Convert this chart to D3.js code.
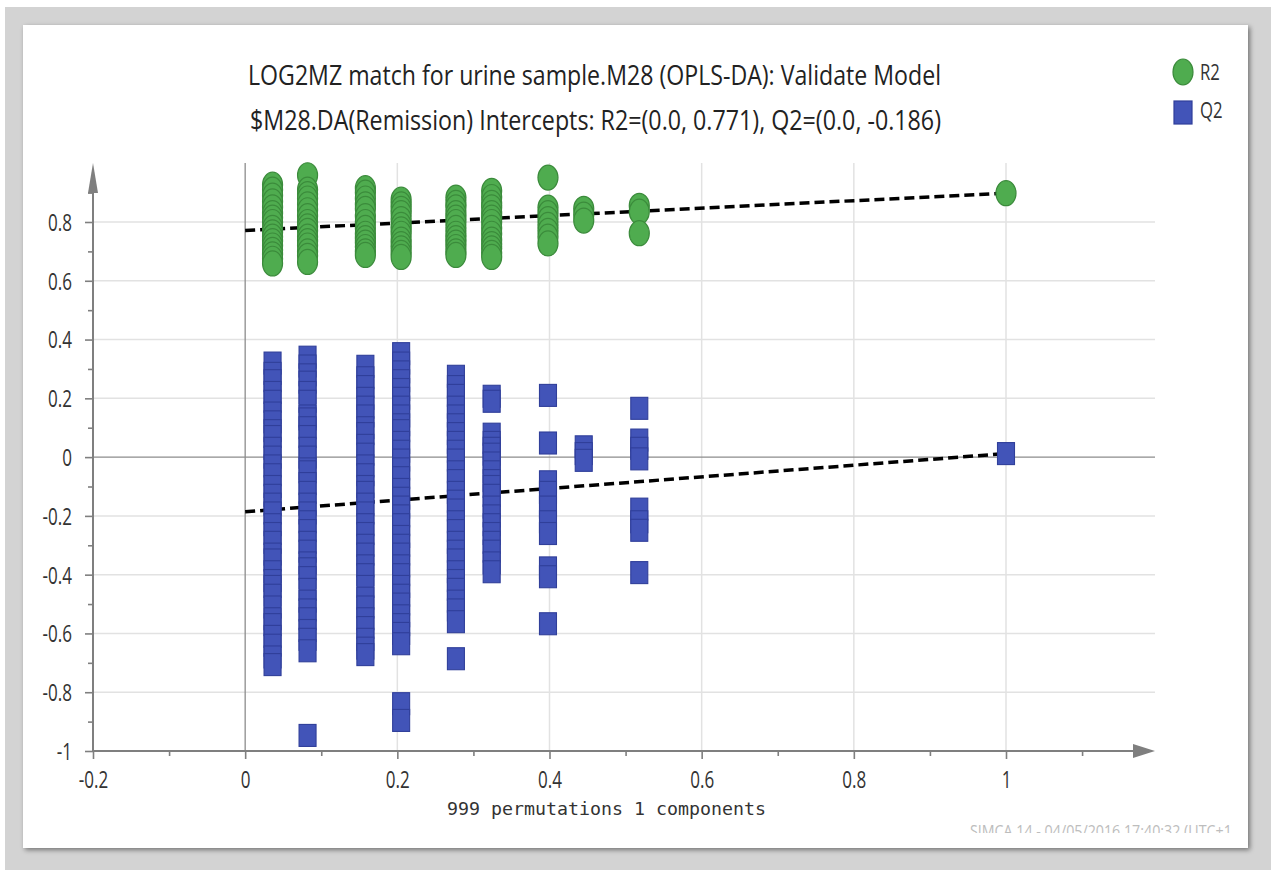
<!DOCTYPE html>
<html>
<head>
<meta charset="utf-8">
<script src="https://cdn.jsdelivr.net/npm/d3@7"></script>
<style>
  html, body { margin: 0; padding: 0; background: #ffffff; }
  svg { display: block; }
</style>
</head>
<body>
<svg id="chart" width="1271" height="870"></svg>
<script>
// Permutation correlation (x position) of each group of permuted models
const permCorr = [0.036, 0.082, 0.158, 0.205, 0.277, 0.324, 0.398, 0.445, 0.518];

// R2 of the permuted models, one list per correlation group
const r2Perm = [
  [0.927, 0.91, 0.89, 0.87, 0.85, 0.83, 0.815, 0.80, 0.78, 0.765, 0.75, 0.735, 0.72, 0.705, 0.69, 0.675, 0.659],
  [0.959, 0.91, 0.895, 0.88, 0.86, 0.84, 0.82, 0.80, 0.785, 0.77, 0.75, 0.735, 0.72, 0.70, 0.685, 0.664],
  [0.915, 0.90, 0.88, 0.86, 0.845, 0.82, 0.80, 0.78, 0.76, 0.745, 0.73, 0.715, 0.70, 0.688],
  [0.876, 0.86, 0.845, 0.83, 0.81, 0.79, 0.775, 0.76, 0.74, 0.725, 0.71, 0.695, 0.681],
  [0.883, 0.865, 0.85, 0.83, 0.815, 0.80, 0.78, 0.76, 0.745, 0.73, 0.715, 0.70, 0.688],
  [0.906, 0.885, 0.865, 0.85, 0.83, 0.815, 0.80, 0.78, 0.76, 0.74, 0.725, 0.71, 0.695, 0.681],
  [0.951, 0.849, 0.83, 0.81, 0.79, 0.77, 0.75, 0.727],
  [0.845, 0.825, 0.805],
  [0.855, 0.835, 0.762]
];

// Q2 of the permuted models, one list per correlation group
const q2Perm = [
  [0.32, 0.285, 0.26, 0.22, 0.19, 0.15, 0.12, 0.09, 0.07, 0.03, 0.0, -0.03, -0.06, -0.10, -0.13, -0.16, -0.19, -0.23, -0.26, -0.29, -0.33, -0.35, -0.39, -0.42, -0.44, -0.47, -0.51, -0.55, -0.57, -0.61, -0.64, -0.68, -0.706],
  [0.34, 0.31, 0.28, 0.255, 0.22, 0.19, 0.14, 0.13, 0.10, 0.07, 0.03, 0.0, -0.04, -0.05, -0.09, -0.12, -0.16, -0.19, -0.22, -0.25, -0.29, -0.32, -0.36, -0.38, -0.41, -0.45, -0.49, -0.52, -0.55, -0.59, -0.62, -0.659, -0.947],
  [0.309, 0.27, 0.24, 0.20, 0.17, 0.14, 0.10, 0.08, 0.04, 0.01, -0.03, -0.06, -0.10, -0.12, -0.16, -0.19, -0.23, -0.26, -0.30, -0.33, -0.37, -0.40, -0.44, -0.48, -0.51, -0.55, -0.58, -0.62, -0.65, -0.672],
  [0.352, 0.32, 0.29, 0.26, 0.23, 0.20, 0.17, 0.14, 0.11, 0.09, 0.05, 0.02, -0.01, -0.04, -0.07, -0.11, -0.14, -0.17, -0.20, -0.23, -0.27, -0.30, -0.33, -0.37, -0.40, -0.44, -0.47, -0.50, -0.54, -0.57, -0.60, -0.635, -0.839, -0.896],
  [0.275, 0.24, 0.21, 0.17, 0.14, 0.11, 0.08, 0.05, 0.02, -0.01, -0.05, -0.08, -0.12, -0.15, -0.18, -0.22, -0.25, -0.29, -0.32, -0.35, -0.39, -0.42, -0.45, -0.49, -0.52, -0.56, -0.686],
  [0.207, 0.19, 0.078, 0.05, 0.03, 0.01, -0.02, -0.05, -0.08, -0.10, -0.13, -0.17, -0.20, -0.23, -0.26, -0.29, -0.32, -0.36, -0.39],
  [0.21, 0.048, -0.084, -0.12, -0.17, -0.22, -0.26, -0.377, -0.407, -0.567],
  [0.035, 0.012, -0.011],
  [0.166, 0.058, 0.03, -0.006, -0.177, -0.22, -0.249, -0.393]
];

// Original (unpermuted) model, plotted at correlation 1
const modelCorr = 1.0;
const r2Model = 0.898;
const q2Model = 0.012;

// Regression intercepts reported in the subtitle
const r2Intercept = 0.771;
const q2Intercept = -0.186;

// Axis ticks
const xTicks = [-0.2, 0, 0.2, 0.4, 0.6, 0.8, 1];
const xMinorTicks = [-0.1, 0.1, 0.3, 0.5, 0.7, 0.9, 1.1];
const yTicks = [-1, -0.8, -0.6, -0.4, -0.2, 0, 0.2, 0.4, 0.6, 0.8];
const yMinorTicks = [-0.9, -0.7, -0.5, -0.3, -0.1, 0.1, 0.3, 0.5, 0.7, 0.9];
const xGridTicks = [0.2, 0.4, 0.6, 0.8, 1];

const titleLine1 = "LOG2MZ match for urine sample.M28 (OPLS-DA): Validate Model";
const titleLine2 = "$M28.DA(Remission) Intercepts: R2=(0.0, 0.771), Q2=(0.0, -0.186)";
const xLabel = "999 permutations 1 components";
const footer = "SIMCA 14 - 04/05/2016 17:40:32 (UTC+1)";
const legendItems = ["R2", "Q2"];

// ---- drawing ----
const svg = d3.select("#chart");
const W = 1271, H = 870;
const sans = "Open Sans, Noto Sans, sans-serif";

const green = "#4fac4f", greenEdge = "#3b8b3b";
const blue = "#4254b8", blueEdge = "#303f9a";
const textCol = "#333333";

const defs = svg.append("defs");
const shadow = defs.append("filter").attr("id", "panelShadow")
  .attr("x", "-5%").attr("y", "-5%").attr("width", "110%").attr("height", "110%");
shadow.append("feDropShadow").attr("dx", 2).attr("dy", 2)
  .attr("stdDeviation", 2.5).attr("flood-color", "#000").attr("flood-opacity", 0.45);
defs.append("clipPath").attr("id", "footerClip")
  .append("rect").attr("x", 0).attr("y", 0).attr("width", 1232).attr("height", 833);

// window background and plot panel
svg.append("rect").attr("x", 5).attr("y", 7).attr("width", W - 5).attr("height", H - 7)
  .attr("fill", "#d3d3d3");
svg.append("rect").attr("x", 23).attr("y", 25).attr("width", 1225).attr("height", 823)
  .attr("fill", "#ffffff").attr("filter", "url(#panelShadow)");

const x = d3.scaleLinear().domain([-0.2, 1]).range([93, 1006]);
const y = d3.scaleLinear().domain([-1, 0.8]).range([751, 222]);

const xLeft = x(-0.2), xRight = 1155, yTop = 163, yBottom = y(-1);

// horizontal grid
svg.append("g").selectAll("line").data(yTicks.filter(v => v !== -1 && v !== 0)).join("line")
  .attr("x1", xLeft).attr("x2", xRight)
  .attr("y1", d => y(d)).attr("y2", d => y(d))
  .attr("stroke", "#e2e2e2").attr("stroke-width", 1.5);
// vertical grid
svg.append("g").selectAll("line").data(xGridTicks).join("line")
  .attr("x1", d => x(d)).attr("x2", d => x(d))
  .attr("y1", yTop).attr("y2", yBottom)
  .attr("stroke", "#e2e2e2").attr("stroke-width", 1.5);
// zero lines
svg.append("line").attr("x1", xLeft).attr("x2", xRight).attr("y1", y(0)).attr("y2", y(0))
  .attr("stroke", "#8c8c8c").attr("stroke-width", 1.3);
svg.append("line").attr("x1", x(0)).attr("x2", x(0)).attr("y1", yTop).attr("y2", yBottom)
  .attr("stroke", "#8c8c8c").attr("stroke-width", 1.3);

// axes (label text squeezed horizontally)
const axisColor = "#7f7f7f";
const fmt = d => String(+d.toFixed(1));
function styleAxis(g) {
  g.select(".domain").remove();
  g.selectAll(".tick line").attr("stroke", axisColor).attr("stroke-width", 1.6);
}
const yAxis = svg.append("g").attr("transform", `translate(${xLeft},0)`)
  .call(d3.axisLeft(y).tickValues(yTicks).tickSize(8).tickPadding(13).tickFormat(fmt));
styleAxis(yAxis);
yAxis.selectAll(".tick text")
  .attr("font-size", 24).attr("fill", textCol).attr("font-family", sans)
  .attr("dy", "0.35em")
  .attr("transform", function () { const xx = +d3.select(this).attr("x"); return `translate(${xx},0) scale(0.71,1)`; })
  .attr("x", 0);
const yMinor = svg.append("g").attr("transform", `translate(${xLeft},0)`)
  .call(d3.axisLeft(y).tickValues(yMinorTicks).tickSize(5).tickFormat(""));
styleAxis(yMinor);

const xAxis = svg.append("g").attr("transform", `translate(0,${yBottom})`)
  .call(d3.axisBottom(x).tickValues(xTicks).tickSize(8).tickPadding(17).tickFormat(fmt));
styleAxis(xAxis);
xAxis.selectAll(".tick text")
  .attr("font-size", 24).attr("fill", textCol).attr("font-family", sans)
  .attr("dy", "0.5em")
  .attr("transform", "scale(0.71,1)");
const xMinor = svg.append("g").attr("transform", `translate(0,${yBottom})`)
  .call(d3.axisBottom(x).tickValues(xMinorTicks).tickSize(5).tickFormat(""));
styleAxis(xMinor);

// axis lines with arrowheads
svg.append("line").attr("x1", xLeft).attr("x2", xLeft).attr("y1", yBottom).attr("y2", yTop + 20)
  .attr("stroke", axisColor).attr("stroke-width", 2);
svg.append("path")
  .attr("d", `M${xLeft},${yTop} L${xLeft - 5},${yTop + 30} L${xLeft + 5},${yTop + 30} Z`)
  .attr("fill", axisColor);
svg.append("line").attr("x1", xLeft).attr("x2", xRight - 15).attr("y1", yBottom).attr("y2", yBottom)
  .attr("stroke", axisColor).attr("stroke-width", 2);
svg.append("path")
  .attr("d", `M${xRight},${yBottom} L${xRight - 22},${yBottom - 7} L${xRight - 22},${yBottom + 7} Z`)
  .attr("fill", axisColor);

// regression lines through the intercept and the original model
const line = d3.line().x(d => x(d[0])).y(d => y(d[1]));
svg.append("path").datum([[0, r2Intercept], [modelCorr, r2Model]]).attr("d", line)
  .attr("stroke", "#000").attr("stroke-width", 3.5).attr("stroke-dasharray", "10,5").attr("fill", "none");
svg.append("path").datum([[0, q2Intercept], [modelCorr, q2Model]]).attr("d", line)
  .attr("stroke", "#000").attr("stroke-width", 3.5).attr("stroke-dasharray", "10,5").attr("fill", "none");

// flatten the permutation groups into points
const q2Points = [];
q2Perm.forEach((vals, i) => vals.forEach(v => q2Points.push([permCorr[i], v])));
q2Points.push([modelCorr, q2Model]);
const r2Points = [];
r2Perm.forEach((vals, i) => vals.forEach(v => r2Points.push([permCorr[i], v])));
r2Points.push([modelCorr, r2Model]);

const sqW = 17, sqH = 22;
svg.append("g").selectAll("rect").data(q2Points).join("rect")
  .attr("x", d => x(d[0]) - sqW / 2).attr("y", d => y(d[1]) - sqH / 2)
  .attr("width", sqW).attr("height", sqH)
  .attr("fill", blue).attr("stroke", blueEdge).attr("stroke-width", 1.1);

svg.append("g").selectAll("ellipse").data(r2Points).join("ellipse")
  .attr("cx", d => x(d[0])).attr("cy", d => y(d[1]))
  .attr("rx", 10).attr("ry", 12.5)
  .attr("fill", green).attr("stroke", greenEdge).attr("stroke-width", 1.2);

// titles
function squeezedText(txt, x0, yb, len, size, fill, family) {
  return svg.append("text").attr("x", x0).attr("y", yb)
    .attr("textLength", len).attr("lengthAdjust", "spacingAndGlyphs")
    .attr("font-size", size).attr("fill", fill)
    .attr("font-family", family || sans)
    .text(txt);
}
squeezedText(titleLine1, 248, 85, 693, 27, "#222");
squeezedText(titleLine2, 250, 130, 691, 27, "#222");

// x-axis title
squeezedText(xLabel, 447, 815, 319, 18, textCol, "DejaVu Sans Mono, Liberation Mono, monospace");

// footer stamp, cut off by the panel edge
svg.append("g").attr("clip-path", "url(#footerClip)")
  .append("text").attr("x", 970).attr("y", 837)
  .attr("textLength", 266).attr("lengthAdjust", "spacingAndGlyphs")
  .attr("font-family", sans)
  .attr("font-size", 16).attr("fill", "#bdbdbd").text(footer);

// legend
const lg = svg.append("g");
lg.append("ellipse").attr("cx", 1183).attr("cy", 72).attr("rx", 10).attr("ry", 13)
  .attr("fill", green).attr("stroke", greenEdge).attr("stroke-width", 1.2);
lg.append("rect").attr("x", 1174).attr("y", 101).attr("width", 18).attr("height", 23)
  .attr("fill", blue).attr("stroke", blueEdge).attr("stroke-width", 1.2);
lg.selectAll("text").data(legendItems).join("text")
  .attr("transform", (d, i) => `translate(1200,${80 + i * 38}) scale(0.76,1)`)
  .attr("font-family", sans)
  .attr("font-size", 22).attr("fill", textCol).text(d => d);
</script>
</body>
</html>
